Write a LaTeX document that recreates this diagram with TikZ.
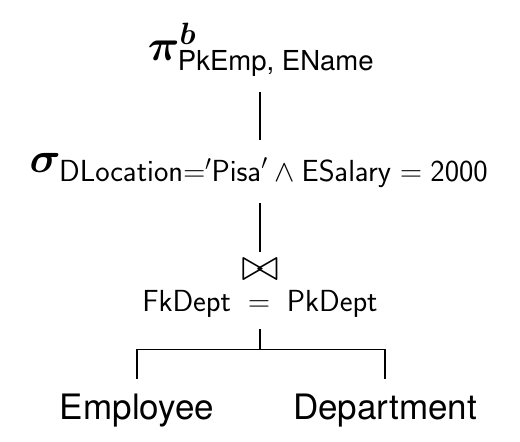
\documentclass[tikz,border=0pt]{standalone}
\usepackage{fix-cm}
\usepackage{amsmath,bm}
\usepackage[no-math]{fontspec}
\newfontfamily\heros{TeX Gyre Heros}
\tikzset{
  lbl/.style={inner sep=0pt, outer sep=0pt},
  edge/.style={line width=1.1pt},
}
\begin{document}
\begin{tikzpicture}[x=1pt,y=-1pt]
\useasboundingbox (0,0) rectangle (520,442);
% projection
\node[lbl, anchor=base] (proj) at (261,60)
  {\fontsize{44}{48}\selectfont$\boldsymbol{\pi}^{\boldsymbol{b}}_{\text{\heros\fontsize{27.5}{30}\selectfont PkEmp, EName}}$};
% selection
\node[lbl, anchor=base] (sel) at (259,172)
  {\fontsize{43}{46}\selectfont$\boldsymbol{\sigma}_{\text{\fontsize{30.5}{33}\selectfont$\mathsf{DLocation}{=}'\mathsf{Pisa}'\wedge\mathsf{ESalary}=\mathsf{2000}$}}$};
% join
\node[lbl, anchor=base] (join) at (260,311)
  {\shortstack{{\fontsize{46}{46}\selectfont$\bowtie$}\\[6pt]{\fontsize{30.5}{33}\selectfont$\mathsf{FkDept}\;=\;\mathsf{PkDept}$}}};
% relations
\node[lbl, anchor=base] (emp) at (137,419.3) {\heros\fontsize{35}{38}\selectfont Employee};
\node[lbl, anchor=base] (dep) at (385,419.3) {\heros\fontsize{35}{38}\selectfont Department};
\coordinate (split) at (260,349.3);
% connectors
\draw[edge] ([yshift=-31.7pt]proj.base -| join.center) -- ([yshift=32pt]sel.base -| join.center);
\draw[edge] ([yshift=-31.3pt]sel.base -| join.center) -- ([yshift=58.7pt]join.base);
\draw[edge] ([yshift=-18pt]join.base) -- (split);
\draw[edge] (split) -| ([yshift=40.3pt]emp.base);
\draw[edge] (split) -| ([yshift=40.3pt]dep.base);
\end{tikzpicture}
\end{document}
